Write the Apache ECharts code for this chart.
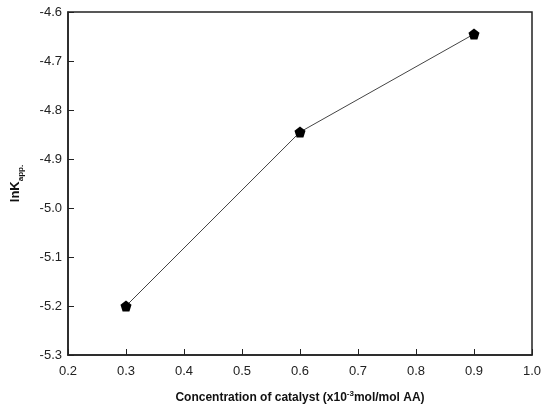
<!DOCTYPE html>
<html>
<head>
<meta charset="utf-8">
<script src="https://cdn.jsdelivr.net/npm/echarts@6/dist/echarts.min.js"></script>
<style>
  html, body { margin: 0; padding: 0; background: #fff; }
  #chart { width: 553px; height: 409px; }
</style>
</head>
<body>
<div id="chart"></div>
<script>
// catalyst concentration (x10^-3 mol/mol AA) vs lnK_app
const concentration = [0.3, 0.6, 0.9];
const lnK = [-5.2, -4.845, -4.645];

const chart = echarts.init(document.getElementById('chart'));

const axisFont = {
    color: '#222',
    fontSize: 13,
    fontFamily: 'Liberation Sans'
};

const option = {
    animation: false,
    grid: {
        left: 68,
        right: 21,
        top: 12,
        bottom: 52,
        show: true,
        borderColor: '#222',
        borderWidth: 1.5
    },
    xAxis: {
        type: 'value',
        min: 0.2,
        max: 1.0,
        interval: 0.1,
        axisLine: { lineStyle: { color: '#222', width: 1.5 } },
        axisTick: { inside: true, length: 6, lineStyle: { color: '#222' } },
        splitLine: { show: false },
        axisLabel: {
            ...axisFont,
            margin: 10,
            formatter: v => v.toFixed(1)
        },
        name: '{b|Concentration of catalyst (x10}{sup|-3}{b|mol/mol AA)}',
        nameLocation: 'middle',
        nameGap: 35,
        nameTextStyle: {
            rich: {
                b: { fontSize: 12, fontWeight: 'bold', color: '#111', fontFamily: 'Liberation Sans' },
                sup: { fontSize: 8, fontWeight: 'bold', color: '#111', fontFamily: 'Liberation Sans', padding: [0, 0, 8, 0] }
            }
        }
    },
    yAxis: {
        type: 'value',
        min: -5.3,
        max: -4.6,
        interval: 0.1,
        axisLine: { lineStyle: { color: '#222', width: 1.5 } },
        axisTick: { inside: true, length: 6, lineStyle: { color: '#222' } },
        splitLine: { show: false },
        axisLabel: {
            ...axisFont,
            margin: 6,
            formatter: v => v.toFixed(1)
        },
        name: '{b|lnK}{sub|app.}',
        nameLocation: 'middle',
        nameGap: 43,
        nameRotate: 90,
        nameTextStyle: {
            rich: {
                b: { fontSize: 13, fontWeight: 'bold', color: '#111', fontFamily: 'Liberation Sans' },
                sub: { fontSize: 8, fontWeight: 'bold', color: '#111', fontFamily: 'Liberation Sans', verticalAlign: 'bottom', padding: [12, 0, 0, 0] }
            }
        }
    },
    series: [
        {
            type: 'line',
            data: concentration.map((x, i) => [x, lnK[i]]),
            symbol: 'path://M0,-10 L9.51,-3.09 L5.88,8.09 L-5.88,8.09 L-9.51,-3.09 Z',
            symbolSize: 11,
            itemStyle: { color: '#000' },
            lineStyle: { color: '#444', width: 1 }
        }
    ]
};

chart.setOption(option);
</script>
</body>
</html>
